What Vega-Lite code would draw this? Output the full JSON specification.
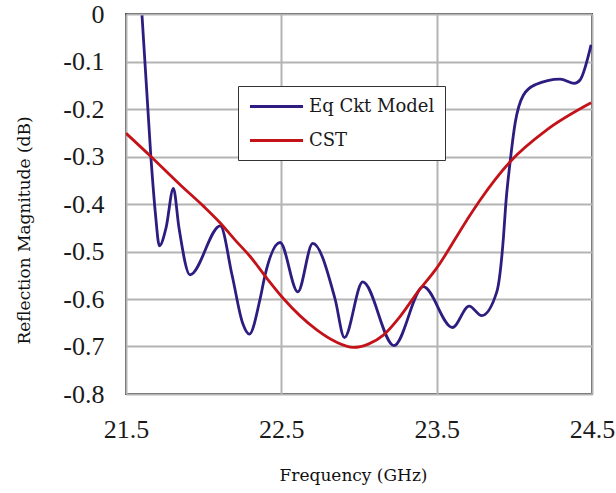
{
  "$schema": "https://vega.github.io/schema/vega-lite/v6.json",
  "autosize": {"type": "none"},
  "padding": {"left": 126, "top": 14, "right": 24, "bottom": 99},
  "width": 466,
  "height": 380,
  "background": "white",
  "config": {
    "view": {"stroke": "#444444", "strokeWidth": 2},
    "axis": {
      "grid": true,
      "gridColor": "#b4b4b4",
      "gridWidth": 2,
      "domain": false,
      "ticks": false,
      "labelFont": "Liberation Serif",
      "labelFontSize": 26,
      "labelColor": "#1a1a1a",
      "labelFlush": false,
      "titleFont": "DejaVu Serif",
      "titleFontSize": 17,
      "titleFontWeight": "normal",
      "titleColor": "#111111"
    }
  },
  "data": {
    "values": [
      {"series": "Eq Ckt Model", "freq": 21.603, "mag": -0.003},
      {"series": "Eq Ckt Model", "freq": 21.66, "mag": -0.3},
      {"series": "Eq Ckt Model", "freq": 21.689, "mag": -0.419},
      {"series": "Eq Ckt Model", "freq": 21.715, "mag": -0.488},
      {"series": "Eq Ckt Model", "freq": 21.758, "mag": -0.45},
      {"series": "Eq Ckt Model", "freq": 21.805, "mag": -0.367},
      {"series": "Eq Ckt Model", "freq": 21.841, "mag": -0.45},
      {"series": "Eq Ckt Model", "freq": 21.912, "mag": -0.549},
      {"series": "Eq Ckt Model", "freq": 22.107, "mag": -0.446},
      {"series": "Eq Ckt Model", "freq": 22.183, "mag": -0.55},
      {"series": "Eq Ckt Model", "freq": 22.25, "mag": -0.65},
      {"series": "Eq Ckt Model", "freq": 22.294, "mag": -0.674},
      {"series": "Eq Ckt Model", "freq": 22.363, "mag": -0.6},
      {"series": "Eq Ckt Model", "freq": 22.395, "mag": -0.55},
      {"series": "Eq Ckt Model", "freq": 22.492, "mag": -0.481},
      {"series": "Eq Ckt Model", "freq": 22.606, "mag": -0.585},
      {"series": "Eq Ckt Model", "freq": 22.702, "mag": -0.483},
      {"series": "Eq Ckt Model", "freq": 22.846, "mag": -0.6},
      {"series": "Eq Ckt Model", "freq": 22.906, "mag": -0.681},
      {"series": "Eq Ckt Model", "freq": 23.024, "mag": -0.564},
      {"series": "Eq Ckt Model", "freq": 23.225, "mag": -0.698},
      {"series": "Eq Ckt Model", "freq": 23.414, "mag": -0.574},
      {"series": "Eq Ckt Model", "freq": 23.601, "mag": -0.66},
      {"series": "Eq Ckt Model", "freq": 23.709, "mag": -0.615},
      {"series": "Eq Ckt Model", "freq": 23.79, "mag": -0.635},
      {"series": "Eq Ckt Model", "freq": 23.887, "mag": -0.585},
      {"series": "Eq Ckt Model", "freq": 23.93, "mag": -0.47},
      {"series": "Eq Ckt Model", "freq": 23.945, "mag": -0.4},
      {"series": "Eq Ckt Model", "freq": 23.973, "mag": -0.311},
      {"series": "Eq Ckt Model", "freq": 24.005, "mag": -0.23},
      {"series": "Eq Ckt Model", "freq": 24.058, "mag": -0.171},
      {"series": "Eq Ckt Model", "freq": 24.134, "mag": -0.149},
      {"series": "Eq Ckt Model", "freq": 24.295, "mag": -0.137},
      {"series": "Eq Ckt Model", "freq": 24.387, "mag": -0.146},
      {"series": "Eq Ckt Model", "freq": 24.423, "mag": -0.139},
      {"series": "Eq Ckt Model", "freq": 24.494, "mag": -0.065},
      {"series": "CST", "freq": 21.5, "mag": -0.251},
      {"series": "CST", "freq": 21.66, "mag": -0.3},
      {"series": "CST", "freq": 21.85, "mag": -0.36},
      {"series": "CST", "freq": 22.0, "mag": -0.405},
      {"series": "CST", "freq": 22.107, "mag": -0.44},
      {"series": "CST", "freq": 22.2, "mag": -0.475},
      {"series": "CST", "freq": 22.298, "mag": -0.51},
      {"series": "CST", "freq": 22.406, "mag": -0.556},
      {"series": "CST", "freq": 22.513, "mag": -0.599},
      {"series": "CST", "freq": 22.728, "mag": -0.665},
      {"series": "CST", "freq": 22.85, "mag": -0.69},
      {"series": "CST", "freq": 22.964, "mag": -0.702},
      {"series": "CST", "freq": 23.06, "mag": -0.695},
      {"series": "CST", "freq": 23.157, "mag": -0.676},
      {"series": "CST", "freq": 23.264, "mag": -0.637},
      {"series": "CST", "freq": 23.372, "mag": -0.588},
      {"series": "CST", "freq": 23.5, "mag": -0.535},
      {"series": "CST", "freq": 23.694, "mag": -0.434},
      {"series": "CST", "freq": 23.779, "mag": -0.392},
      {"series": "CST", "freq": 23.973, "mag": -0.311},
      {"series": "CST", "freq": 24.209, "mag": -0.244},
      {"series": "CST", "freq": 24.494, "mag": -0.187}
    ]
  },
  "mark": {"type": "line", "interpolate": "monotone", "strokeWidth": 2.8, "clip": true},
  "encoding": {
    "x": {
      "field": "freq",
      "type": "quantitative",
      "scale": {"domain": [21.5, 24.5], "nice": false, "zero": false},
      "axis": {
        "values": [21.5, 22.5, 23.5, 24.5],
        "labelExpr": "format(datum.value, '.1f')",
        "labelPadding": 22,
        "labelBaseline": "top",
        "title": "Frequency (GHz)",
        "titleX": 227,
        "titleY": 81,
        "titleBaseline": "middle"
      }
    },
    "y": {
      "field": "mag",
      "type": "quantitative",
      "scale": {"domain": [-0.8, 0], "nice": false, "zero": false},
      "axis": {
        "values": [0, -0.1, -0.2, -0.3, -0.4, -0.5, -0.6, -0.7, -0.8],
        "labelExpr": "datum.value == 0 ? '0' : '-' + format(abs(datum.value), '.1f')",
        "labelPadding": 22,
        "title": "Reflection Magnitude (dB)",
        "titleX": -102,
        "titleY": 216,
        "titleAngle": -90,
        "titleBaseline": "middle"
      }
    },
    "color": {
      "field": "series",
      "type": "nominal",
      "scale": {"domain": ["Eq Ckt Model", "CST"], "range": ["#2e1c80", "#c41219"]},
      "legend": {
        "title": null,
        "orient": "none",
        "legendX": 112,
        "legendY": 72,
        "symbolType": "M-3,0H3",
        "symbolSize": 313,
        "symbolOffset": 18,
        "symbolStrokeWidth": 3,
        "labelFont": "DejaVu Serif",
        "labelFontSize": 18,
        "labelColor": "#1a1a1a",
        "labelOffset": 22,
        "strokeColor": "#333333",
        "fillColor": "white",
        "padding": 10,
        "rowPadding": 14
      }
    }
  }
}
